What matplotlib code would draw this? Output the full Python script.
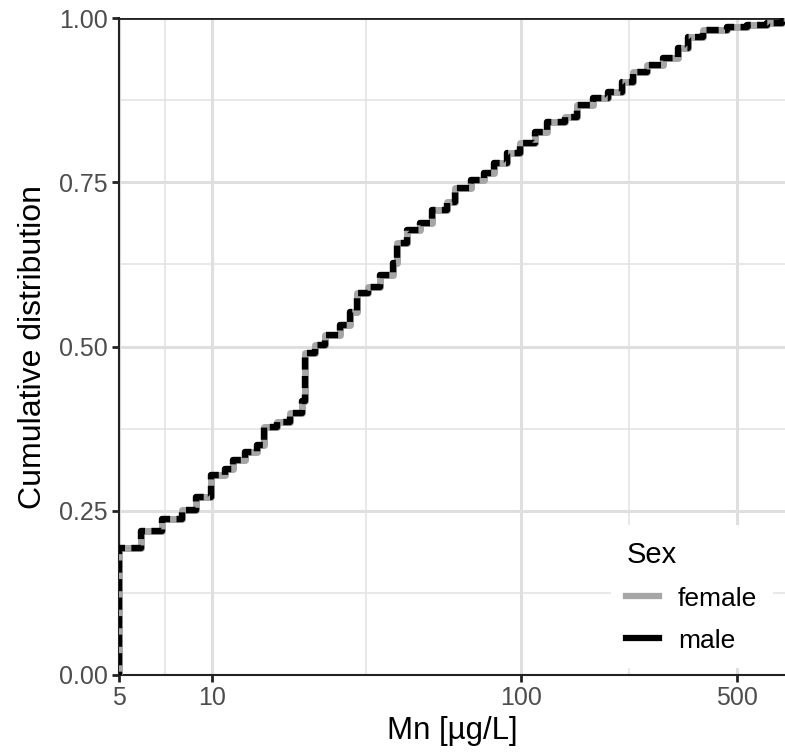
import matplotlib
matplotlib.use("Agg")
import matplotlib.pyplot as plt
import numpy as np
from matplotlib.lines import Line2D
from matplotlib.ticker import FixedLocator, NullFormatter

plt.rcParams['font.family'] = ['Liberation Sans', 'DejaVu Sans']

### ECDF steps (Mn in ug/L, cumulative share) ###
mn_female = [5, 5.9, 6.9, 8.0, 8.9, 9.9, 11.0, 11.7, 12.8, 14.0, 14.7, 16.2, 17.9, 19.5,
             20.0, 21.5, 23.2, 25.9, 28.0, 29.5, 32, 35, 38.5, 39.7, 42.8, 47, 51.5,
             57.6, 61, 69, 76, 82, 90, 99, 111, 121, 139, 152, 171, 191, 212, 230,
             256, 288, 322, 347, 388, 464, 539, 625, 700]
cdf_female = [0.193, 0.219, 0.237, 0.251, 0.271, 0.304, 0.314, 0.327, 0.340, 0.350, 0.377,
              0.385, 0.399, 0.417, 0.490, 0.502, 0.517, 0.533, 0.553, 0.581, 0.591, 0.609,
              0.627, 0.658, 0.677, 0.688, 0.708, 0.720, 0.741, 0.753, 0.764, 0.779, 0.794,
              0.810, 0.826, 0.842, 0.849, 0.868, 0.878, 0.887, 0.903, 0.918, 0.928, 0.939,
              0.954, 0.971, 0.982, 0.986, 0.989, 0.992, 0.995]
mn_male = list(mn_female)
cdf_male = list(cdf_female)

x_breaks = [5, 10, 100, 500]
x_minor = [7.07, 31.6, 223.6]
y_breaks = [0, 0.25, 0.5, 0.75, 1.0]
y_minor = [0.125, 0.375, 0.625, 0.875]

fig = plt.figure(figsize=(7.85, 7.54), dpi=100)
ax = fig.add_axes([119/785, 79/754, 666/785, 657/754])

ax.set_xscale('log')
ax.set_xlim(5, 715)
ax.set_ylim(0, 1)

# grid
for v in x_minor:
    ax.axvline(v, color='#e2e2e2', lw=1.1, zorder=0)
for v in y_minor:
    ax.axhline(v, color='#e2e2e2', lw=1.1, zorder=0)
for v in x_breaks:
    ax.axvline(v, color='#dfdfdf', lw=2.2, zorder=0)
for v in y_breaks:
    ax.axhline(v, color='#dfdfdf', lw=2.2, zorder=0)
ax.axhline(1.0, color='#222222', lw=2.0, zorder=1)

# ecdf (padded like stat_ecdf with -Inf/Inf)
xf = np.r_[1, mn_female, 5000]
yf = np.r_[0, cdf_female, 1.0]
xm = np.r_[1, mn_male, 5000]
ym = np.r_[0, cdf_male, 1.0]
ax.step(xf, yf, where='post', color='#a6a6a6', lw=5.0, zorder=3)
ax.step(xm, ym, where='post', color='black', lw=4.6, zorder=4,
        dashes=(1.9, 1.0), solid_capstyle='butt')

ax.xaxis.set_major_locator(FixedLocator(x_breaks))
ax.xaxis.set_minor_locator(FixedLocator([]))
ax.xaxis.set_minor_formatter(NullFormatter())
ax.set_xticklabels(['5', '10', '100', '500'])
ax.set_yticks(y_breaks)
ax.set_yticklabels(['0.00', '0.25', '0.50', '0.75', '1.00'])
ax.tick_params(axis='both', which='major', length=5, width=2, color='#222222',
               labelsize=18, labelcolor='#4d4d4d', pad=3)

for s in ['top', 'right']:
    ax.spines[s].set_visible(False)
for s in ['left', 'bottom']:
    ax.spines[s].set_linewidth(1.5)
    ax.spines[s].set_color('#222222')

ax.set_xlabel('Mn [µg/L]', fontsize=22.5, labelpad=4)
ax.set_ylabel('Cumulative distribution', fontsize=23, labelpad=8)

handles = [Line2D([], [], color='#a6a6a6', lw=4.5),
           Line2D([], [], color='black', lw=4.5)]
leg = ax.legend(handles, ['female', 'male'], title='Sex', loc='lower right',
                bbox_to_anchor=(0.982, 0.01), borderaxespad=0, frameon=True,
                fontsize=19, title_fontsize=21, handlelength=1.25,
                handletextpad=0.7, labelspacing=0.68, borderpad=0.6)
leg._legend_box.align = 'left'
leg.get_frame().set_facecolor('white')
leg.get_frame().set_edgecolor('none')
leg.get_frame().set_alpha(1)
leg.get_frame().set_boxstyle('square', pad=0)

fig.savefig('out.png', dpi=100)
